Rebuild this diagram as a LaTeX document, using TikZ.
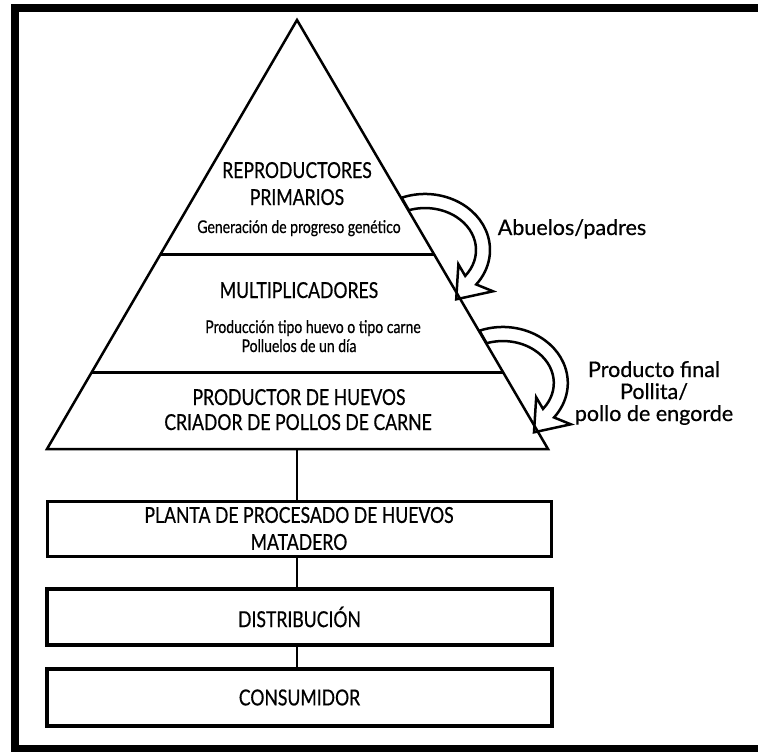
\documentclass[tikz,border=0pt]{standalone}
\usepackage{fontspec}
\setmainfont[FakeBold=0.6]{Lato}
\newfontfamily\condfont[FakeStretch=0.8,FakeBold=0.6]{Lato}
\usetikzlibrary{calc}
\begin{document}
\begin{tikzpicture}[x=1pt,y=-1pt,
  big/.style={font=\condfont\fontsize{22}{27}\selectfont, inner sep=0pt, anchor=base},
  small/.style={font=\condfont\fontsize{17.5}{20}\selectfont, inner sep=0pt, anchor=base},
  lbl/.style={font=\fontsize{21.5}{24}\selectfont, inner sep=0pt, anchor=base},
  pyredge/.style={line width=2.5pt, line join=miter},
  divider/.style={line width=3pt},
  thinbox/.style={draw, line width=3pt, minimum width=504pt, minimum height=55pt, inner sep=0pt, align=center, font=\condfont\fontsize{22}{27}\selectfont},
  thickbox/.style={thinbox, line width=4.5pt},
  link/.style={line width=1.5pt},
  frameline/.style={line width=8pt},
  curvedarrow/.style={line width=2.5pt, line join=miter},
  bend arrow/.pic={
    \draw[curvedarrow] (-23.3,-52.3) arc[start angle=-111, end angle=38, x radius=65, y radius=56]
      -- (68,41.3) -- (31.2,49.3) -- (33.4,14.3) -- (40.2,25.9)
      arc[start angle=38, end angle=-108.5, x radius=51, y radius=42] -- cycle;
  }
]
\useasboundingbox (0,0) rectangle (758,752);
% outer frame
\draw[frameline] (758,8.5) -- (15,8.5) -- (15,748.5) -- (758,748.5);
% pyramid
\coordinate (apex) at (297,20);
\coordinate (bl) at (47,449);
\coordinate (br) at (548,449);
\coordinate (bm) at (297,449);
\draw[pyredge] (bl) -- (apex) -- (br) -- cycle;
\coordinate (d1l) at ($(apex)!{(255-20)/429}!(bl)$);
\coordinate (d1r) at ($(apex)!{(255-20)/429}!(br)$);
\coordinate (d2l) at ($(apex)!{(373-20)/429}!(bl)$);
\coordinate (d2r) at ($(apex)!{(373-20)/429}!(br)$);
\draw[divider] (d1l) -- (d1r);
\draw[divider] (d2l) -- (d2r);
% pyramid texts
\node[big] (rep1) at (297,178) {REPRODUCTORES};
\node[big] (rep2) at (297,205) {PRIMARIOS};
\node[small] (rep3) at (299,233) {Generación de progreso genético};
\node[big] (mul1) at (299,298) {MULTIPLICADORES};
\node[small] (mul2) at (313,333) {Producción tipo huevo o tipo carne};
\node[small] (mul3) at (299,352) {Polluelos de un día};
\node[big] (pro1) at (299,405) {PRODUCTOR DE HUEVOS};
\node[big] (pro2) at (298,430) {CRIADOR DE POLLOS DE CARNE};
% boxes
\node[thinbox] (planta) at (299,528.5) {PLANTA DE PROCESADO DE HUEVOS\\MATADERO};
\node[thickbox, minimum width=505pt, minimum height=56pt] (dist) at (299.5,617) {DISTRIBUCIÓN};
\node[thickbox, minimum width=505pt, minimum height=57pt] (cons) at (299.5,697.5) {CONSUMIDOR};
% links
\draw[link] (bm) -- (bm |- planta.north);
\draw[link] (bm |- planta.south) -- (bm |- dist.north);
\draw[link] (bm |- dist.south) -- (bm |- cons.north);
% curved arrows
\pic at (425,250) {bend arrow};
\pic at (502.8,383) {bend arrow};
% labels
\node[lbl] (abu) at (572,235) {Abuelos/padres};
\node[lbl] (prod1) at (654,377) {Producto final};
\node[lbl] (prod2) at (654,399) {Pollita/};
\node[lbl] (prod3) at (654,421) {pollo de engorde};
\end{tikzpicture}
\end{document}
